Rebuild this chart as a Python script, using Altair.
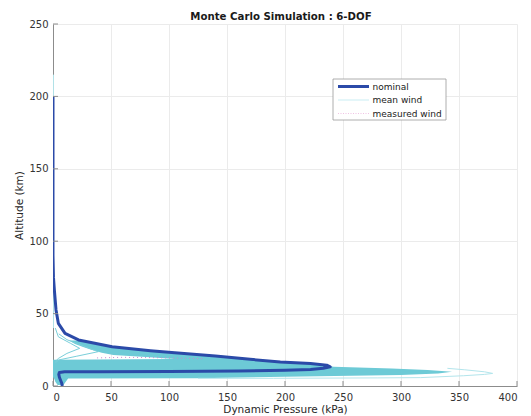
import altair as alt
import pandas as pd

TITLE = "Monte Carlo Simulation : 6-DOF"

# ---- nominal trajectory: dynamic pressure (kPa) against altitude (km), in flight order
nominal_q = [8, 7.5, 6.5, 5.5, 5.0, 5.5, 10, 40, 100, 160, 200, 222, 233, 239, 236, 222,
             196, 170, 140, 105, 84, 51, 22, 10.4, 4.6, 2.6, 1.2, 0.4, 0.0, 0.0]
nominal_h = [0, 2, 4, 6, 8, 9.3, 9.8, 9.9, 10.1, 10.4, 10.8, 11.4, 12.2, 13.3, 14.4, 15.6,
             16.6, 18.4, 20.7, 23.0, 24.4, 27.1, 31.8, 36.4, 43.3, 52.5, 66, 75, 90, 200]

# ---- envelope of the dispersed runs, per altitude band (left and right edge, kPa)
core_h  = [0.7, 3.0, 5.2, 5.4, 6.4, 7.6, 8.6, 9.9, 11.0, 12.0, 13.3, 14.4, 15.6, 16.6,
           17.6, 18.2, 18.6, 20.0, 21.4, 23.0, 25.0, 27.0, 29.0, 31.5]
core_lo = [4.0, 2.0, 1.0, 0.5, 0.0, 0.0, 0.0, 0.0, 0.0, 0.0, 0.0, 0.0, 0.0, 0.0,
           0.0, 0.0, 105, 80, 52, 42, 33, 26, 19, 14]
core_hi = [9.0, 11, 13, 125, 200, 300, 332, 344, 323, 292, 242, 233, 215, 194,
           178, 170, 164, 148, 128, 103, 75, 52, 38, 22]

# individual dispersed runs that peak early
run_a_q = [2.0, 4.6, 12, 23, 15, 4.6, 2.0]
run_a_h = [17, 19, 22.5, 26, 29.5, 34, 40]
run_b_q = [2.0, 5.0, 20, 39, 25, 12, 5.0]
run_b_h = [16, 18, 20.5, 23.7, 28, 32, 36]

# single mean-wind run reaching the highest dynamic pressure
outer_q = [125, 190, 280, 317, 354, 372, 379, 372, 355, 340]
outer_h = [5.3, 5.3, 5.6, 5.8, 7.1, 8.0, 8.7, 9.8, 11.2, 12.2]

# mean-wind runs climbing to the top of the trajectory
high_q = [0.4, 0.4]
high_h = [40, 215]

# measured-wind runs (dotted)
measured_q = [38, 60, 85, 110, 130]
measured_h = [19.4, 19.8, 19.6, 19.2, 18.9]

# ---- axes
x_ticks = [0, 50, 100, 150, 200, 250, 300, 350, 400]
y_ticks = [0, 50, 100, 150, 200, 250]

# ---- legend
legend_labels = ["nominal", "mean wind", "measured wind"]
legend_colors = ["#2B4AA8", "#C9EDF3", "#F0C2E4"]
legend_widths = [3, 1.2, 1.2]
legend_dashes = [[1, 0], [1, 0], [1, 1.5]]

NOMINAL = "#2B4AA8"
CORE = "#6DCAD6"
RUN = "#7ACFDA"
PALE = "#B3E5EC"
SPECK = "#C58AD2"
AXIS_GREY = "#8C8C8C"

W, H = 464, 362

xs = alt.Scale(domain=[0, 400], nice=False, zero=False)
ys = alt.Scale(domain=[0, 250], nice=False, zero=False)
x_axis = alt.Axis(values=x_ticks, title="Dynamic Pressure (kPa)", grid=True,
                  labelPadding=6, titlePadding=2, ticks=False, tickSize=0)
y_axis = alt.Axis(values=y_ticks, title="Altitude (km)", grid=True,
                  labelPadding=5, titlePadding=4, ticks=False, tickSize=0)


def X(field):
    return alt.X(field, type="quantitative", scale=xs, axis=x_axis)


def Y(field):
    return alt.Y(field, type="quantitative", scale=ys, axis=y_axis)


def path(qs, hs, name):
    return pd.DataFrame({"q": qs, "h": hs, "idx": range(len(qs)), "run": name})


core = pd.DataFrame({"h": core_h, "lo": core_lo, "hi": core_hi})

core_layer = alt.Chart(core).mark_area(orient="horizontal", color=CORE, opacity=1, clip=True).encode(
    y=Y("h"), x=X("lo"), x2="hi")

runs = pd.concat([path(run_a_q, run_a_h, "a"), path(run_b_q, run_b_h, "b")])
runs_layer = alt.Chart(runs).mark_line(color=RUN, strokeWidth=1, clip=True).encode(
    x=X("q"), y=Y("h"), detail="run:N", order="idx:Q")

pale = pd.concat([path(outer_q, outer_h, "outer"), path(high_q, high_h, "high")])
pale_layer = alt.Chart(pale).mark_line(color=PALE, strokeWidth=1, clip=True).encode(
    x=X("q"), y=Y("h"), detail="run:N", order="idx:Q")

measured_layer = alt.Chart(path(measured_q, measured_h, "m")).mark_line(
    color=SPECK, strokeWidth=1, strokeDash=[1, 3], clip=True).encode(
    x=X("q"), y=Y("h"), order="idx:Q")

nominal_layer = alt.Chart(path(nominal_q, nominal_h, "nominal")).mark_line(
    color=NOMINAL, strokeWidth=3, clip=True, strokeJoin="round").encode(
    x=X("q"), y=Y("h"), order="idx:Q")

# inward tick marks on both axes
xtick_layer = alt.Chart(pd.DataFrame({"t": x_ticks})).mark_rule(color=AXIS_GREY, strokeWidth=1).encode(
    x=X("t"), y=alt.value(H), y2=alt.value(H - 5))
ytick_layer = alt.Chart(pd.DataFrame({"t": y_ticks})).mark_rule(color=AXIS_GREY, strokeWidth=1).encode(
    y=Y("t"), x=alt.value(0), x2=alt.value(5))

# chart heading, centred over the axes box
title_layer = alt.Chart(pd.DataFrame({"title": [TITLE]})).mark_text(
    align="center", baseline="alphabetic", font="DejaVu Sans", fontSize=10.2,
    fontWeight="bold", color="#1A1A1A").encode(
    x=alt.value(W / 2 - 4), y=alt.value(-4), text="title:N")

# legend box with line samples and labels
LX0, LX1, LY0, LY1 = 280, 393, 55, 96
legend_layers = [
    alt.Chart(pd.DataFrame({"k": [0]})).mark_rect(fill="white", stroke="#9A9A9A", strokeWidth=0.8).encode(
        x=alt.value(LX0), x2=alt.value(LX1), y=alt.value(LY0), y2=alt.value(LY1))
]
for i, (lab, col, wid, dash) in enumerate(zip(legend_labels, legend_colors, legend_widths, legend_dashes)):
    row_y = LY0 + 7.5 + 13.5 * i
    row = pd.DataFrame({"label": [lab]})
    legend_layers.append(
        alt.Chart(row).mark_rule(color=col, strokeWidth=wid, strokeDash=dash).encode(
            x=alt.value(285), x2=alt.value(316), y=alt.value(row_y)))
    legend_layers.append(
        alt.Chart(row).mark_text(align="left", baseline="middle", font="DejaVu Sans",
                                 fontSize=9, color="#1A1A1A").encode(
            x=alt.value(319.5), y=alt.value(row_y), text="label:N"))

chart = alt.layer(
    core_layer, runs_layer, pale_layer, measured_layer, nominal_layer,
    xtick_layer, ytick_layer, title_layer, *legend_layers
).properties(
    width=W, height=H,
    autosize=alt.AutoSizeParams(type="none"),
    padding={"left": 53, "top": 24, "right": 14, "bottom": 30},
).configure_view(stroke=None).configure_axis(
    gridColor="#EBEBEB", gridWidth=1, domainColor=AXIS_GREY, domainWidth=1,
    labelFont="DejaVu Sans", labelFontSize=10, labelColor="#333333",
    titleFont="DejaVu Sans", titleFontSize=10.5, titleFontWeight="normal", titleColor="#262626",
)

chart.save("out.html", embed_options={"renderer": "svg", "actions": False})
